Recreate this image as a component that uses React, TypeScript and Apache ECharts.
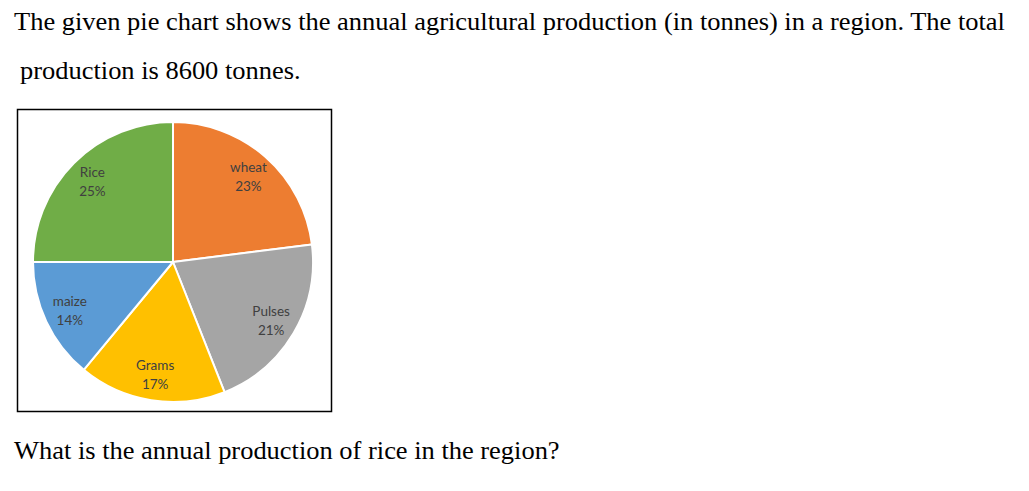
import React, { useEffect, useRef } from "react";
import * as echarts from "echarts";

const categories = ["wheat", "Pulses", "Grams", "maize", "Rice"];
const shares = [23, 21, 17, 14, 25];
const colors = ["#ED7D31", "#A5A5A5", "#FFC000", "#5B9BD5", "#70AD47"];
const introLine1 = "The given pie chart shows the annual agricultural production (in tonnes) in a region. The total";
const introLine2 = "production is 8600 tonnes.";
const question = "What is the annual production of rice in the region?";

export default function App() {
  const ref = useRef<HTMLDivElement>(null);
  useEffect(() => {
    document.body.style.margin = "0";
    const chart = echarts.init(ref.current!, null, { renderer: "svg" });
    const serif = "'Liberation Serif', 'Times New Roman', serif";
    const txt = (text: string, x: number, y: number) => ({
      type: "text",
      x,
      y,
      scaleX: 1.08,
      originX: 0,
      style: { text, font: `24.5px ${serif}`, fill: "#000" },
    });
    chart.setOption({
      animation: false,
      backgroundColor: "#ffffff",
      graphic: [
        txt(introLine1, 14, 9.5),
        txt(introLine2, 20, 58.5),
        txt(question, 14, 438.5),
        {
          type: "rect",
          shape: { x: 17.5, y: 109.5, width: 314, height: 302 },
          style: { fill: "none", stroke: "#000", lineWidth: 1.5 },
          z: 0,
        },
      ],
      series: [
        {
          type: "pie",
          center: [173, 262],
          radius: [0, 140],
          startAngle: 90,
          clockwise: true,
          data: categories.map((name, i) => ({ name, value: shares[i], itemStyle: { color: colors[i] } })),
          label: { show: false },
          labelLine: { show: false },
          itemStyle: { borderColor: "#ffffff", borderWidth: 2 },
          emphasis: { disabled: true },
          silent: true,
        },
        {
          type: "pie",
          center: [173, 262],
          radius: [76, 146],
          startAngle: 90,
          clockwise: true,
          data: categories.map((name, i) => ({ name, value: shares[i] })),
          itemStyle: { color: "rgba(0,0,0,0)" },
          label: {
            show: true,
            position: "inside",
            formatter: "{b}\n{d}%",
            color: "#404040",
            fontSize: 13.5,
            lineHeight: 19,
            fontFamily: "Lato, 'Open Sans', sans-serif",
          },
          labelLine: { show: false },
          emphasis: { disabled: true },
          silent: true,
        },
      ],
    });
    return () => chart.dispose();
  }, []);
  return <div ref={ref} style={{ width: 1029, height: 491, position: "absolute", left: 0, top: 0 }} />;
}
